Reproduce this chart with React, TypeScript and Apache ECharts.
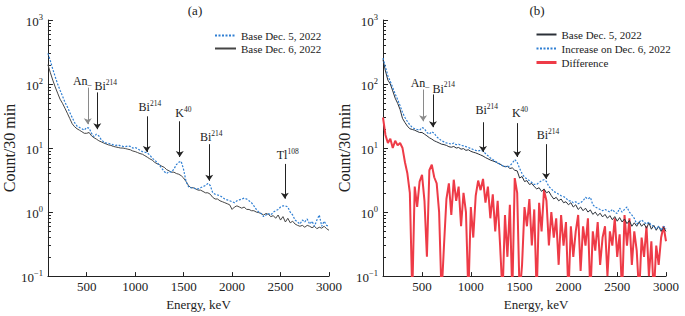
import React, { useEffect, useRef } from "react";
import * as echarts from "echarts";

// Energy grid (keV), 25 keV steps from 100 to 3000
const energies: number[] = Array.from({ length: 117 }, (_, i) => 100 + 25 * i);

// Panel (a)
const leftDec5: number[] = [
  300, 230, 170, 130, 100, 80, 65, 52,
  44, 36, 30, 25, 22, 21, 20, 19,
  21, 20.5, 17, 15, 16.5, 15.5, 13.5, 12.5,
  12, 11.8, 11.5, 11.2, 11, 11.2, 10.8, 10.6,
  10.5, 10.8, 10.6, 10, 10.2, 9.8, 9.2, 8.8,
  8.6, 8.4, 7.8, 7.0, 6.5, 6.0, 5.4, 4.8,
  4.3, 4.0, 4.3, 4.2, 4.7, 5.5, 6.0, 6.2,
  4.6, 3.0, 2.5, 2.4, 2.4, 2.3, 2.3, 2.4,
  2.5, 2.6, 2.8, 2.6, 2.0, 1.9, 1.85, 1.8,
  1.7, 1.6, 1.55, 1.5, 1.45, 1.4, 1.5, 1.55,
  1.6, 1.65, 1.6, 1.5, 1.4, 1.25, 1.1, 1.0,
  0.95, 0.85, 0.9, 0.95, 0.9, 1.0, 1.05, 1.1,
  1.2, 1.25, 1.25, 1.2, 1.0, 0.9, 0.75, 0.7,
  0.65, 0.75, 0.7, 0.78, 0.65, 0.72, 0.6, 0.75,
  0.9, 0.6, 0.72, 0.62, 0.6,
];
const leftDec6: number[] = [
  200, 150, 115, 90, 72, 58, 50, 42,
  35, 29, 24, 21.5, 20, 19, 18, 17,
  17, 17.5, 15.5, 14.5, 13.8, 13, 12.5, 12,
  11.6, 11.2, 11, 10.6, 10.4, 10.2, 10, 10,
  9.8, 9.6, 9.4, 9.0, 8.8, 8.5, 8.2, 8.0,
  7.6, 7.2, 6.8, 6.5, 6.0, 5.7, 5.5, 5.2,
  5.0, 4.6, 4.4, 4.2, 4.2, 4.0, 3.9, 3.7,
  3.4, 3.0, 2.6, 2.4, 2.4, 2.3, 2.2, 2.2,
  2.1, 2.0, 2.0, 1.9, 1.7, 1.6, 1.6, 1.5,
  1.45, 1.4, 1.35, 1.3, 1.1, 1.2, 1.25, 1.2,
  1.15, 1.2, 1.1, 1.1, 1.05, 1.05, 1.0, 0.98,
  0.95, 0.9, 0.95, 0.92, 0.85, 0.88, 0.8, 0.9,
  0.75, 0.85, 0.7, 0.8, 0.68, 0.72, 0.65, 0.62,
  0.6, 0.62, 0.58, 0.62, 0.6, 0.57, 0.6, 0.55,
  0.58, 0.56, 0.6, 0.55, 0.52,
];

// Panel (b)
const rightBase: number[] = [
  240, 160, 115, 100, 78, 60, 50, 40,
  29, 25, 22, 20, 19.5, 19, 18.2, 17.5,
  17.5, 16.5, 15.5, 14.5, 13.8, 13, 12.5, 12,
  11.5, 11.3, 11, 10.5, 10.3, 10.6, 10, 10.2,
  9.6, 9.8, 9.2, 9.4, 8.9, 8.6, 8.4, 8.1,
  7.8, 7.5, 7.1, 6.8, 6.5, 6.3, 6.1, 5.8,
  5.6, 5.3, 5.1, 5.2, 4.8, 4.9, 4.5, 4.4,
  3.4, 3.6, 3.0, 3.1, 2.7, 2.8, 2.5, 2.3,
  2.4, 2.1, 2.3, 2.0, 2.1, 1.8, 1.6, 1.7,
  1.5, 1.6, 1.4, 1.45, 1.3, 1.4, 1.2, 1.3,
  1.1, 1.2, 1.05, 1.15, 1.0, 1.08, 0.92, 1.0,
  0.88, 0.96, 0.84, 0.92, 0.8, 0.88, 0.76, 0.85,
  0.72, 0.82, 0.7, 0.78, 0.66, 0.74, 0.6, 0.68,
  0.6, 0.7, 0.6, 0.66, 0.56, 0.68, 0.54, 0.62,
  0.52, 0.6, 0.5, 0.58, 0.5,
];
const rightIncrease: number[] = [
  255, 185, 135, 110, 88, 70, 57, 46,
  36, 30, 26, 23, 21, 20, 19.5, 19,
  21, 20, 17.5, 16.5, 18, 17, 15, 14,
  13, 12.5, 12, 11.8, 11.5, 12, 11.3, 11.5,
  11, 10.8, 10.5, 10.2, 9.8, 9.5, 9.2, 9.0,
  9.2, 9.0, 8.2, 7.6, 7.0, 6.6, 6.2, 5.9,
  5.6, 5.3, 5.2, 5.0, 5.3, 5.8, 6.6, 6.0,
  4.8, 4.0, 3.5, 3.3, 3.1, 2.9, 2.7, 2.7,
  2.9, 3.1, 3.2, 3.0, 2.5, 2.3, 2.1, 2.0,
  1.9, 1.8, 1.75, 1.65, 1.5, 1.5, 1.4, 1.45,
  1.35, 1.4, 1.5, 1.7, 1.6, 1.7, 1.3, 1.2,
  1.15, 1.1, 1.05, 1.1, 1.05, 1.0, 1.1, 1.0,
  0.95, 1.15, 1.0, 1.1, 1.2, 1.0, 0.9, 0.8,
  0.65, 0.7, 0.75, 0.7, 0.65, 0.7, 0.62, 0.6,
  0.55, 0.6, 0.52, 0.6, 0.55,
];
const difference: number[] = [
  30, 16, 12, 14, 10, 13, 11, 12,
  10, 6, 4, 2, 0.05, 2.5, 1.2, 3.0,
  3.8, 1.5, 0.2, 4.5, 5.5, 3.5, 2.8, 1.0,
  0.05, 0.3, 1.6, 2.8, 0.9, 3.2, 1.5, 2.5,
  0.6, 2.0, 1.0, 0.05, 1.2, 0.4, 1.8, 3.1,
  2.2, 3.3, 1.4, 2.5, 0.8, 1.9, 0.5, 1.5,
  0.3, 0.05, 0.9, 0.2, 1.3, 0.05, 3.4, 2.0,
  0.05, 0.15, 1.2, 0.6, 1.6, 0.3, 1.1, 0.05,
  1.4, 0.5, 2.2, 1.5, 0.3, 1.0, 0.4, 0.8,
  0.15, 0.9, 0.3, 0.7, 0.05, 0.6, 0.2, 0.5,
  0.9, 0.12, 0.6, 0.3, 0.8, 0.05, 0.5, 0.25,
  0.7, 0.15, 0.4, 0.6, 0.1, 0.5, 0.3, 0.8,
  0.2, 0.45, 0.05, 0.9, 0.3, 0.8, 0.15, 0.5,
  0.25, 0.05, 0.4, 0.2, 0.6, 0.1, 0.35, 0.05,
  0.3, 0.15, 0.4, 0.6, 0.35,
];

const xTicks: number[] = [500, 1000, 1500, 2000, 2500, 3000];

// Peak annotations: [label, superscript, energy, arrowTop, arrowBottom, labelEnergy, labelCount]
type Ann = [string, string, number, number, number, number, number];
const annotationsA: Ann[] = [
  ["An", "", 511, 88, 23.6, 454, 117],
  ["Bi", "214", 609, 74, 19.7, 697, 95],
  ["Bi", "214", 1120, 31.3, 8.66, 1152, 44.8],
  ["K", "40", 1460, 26.2, 7.25, 1497, 36.1],
  ["Bi", "214", 1764, 11.5, 3.08, 1785, 15.35],
  ["Tl", "108", 2544, 5.65, 1.62, 2574, 8.07],
];
const annotationsB: Ann[] = [
  ["An", "", 511, 82, 26.2, 479, 109],
  ["Bi", "214", 612, 68.8, 21.2, 722, 88],
  ["Bi", "214", 1125, 25.3, 8.66, 1163, 40.2],
  ["K", "40", 1475, 24.5, 7.25, 1504, 36.1],
  ["Bi", "214", 1771, 11.5, 3.3, 1791, 16.5],
];

const FONT = "'Liberation Serif', 'Times New Roman', serif";
const BLUE = "#2f7fd3";
const RED = "#ee3b47";

const pairs = (vals: number[]) => energies.map((e, i) => [e, vals[i]]);

const minorTickValues: number[] = [];
for (let n = -1; n <= 2; n++) {
  for (let k = 2; k <= 9; k++) minorTickValues.push(n + Math.log10(k));
}

function annLayers(anns: Ann[]) {
  return {
    markLine: {
      silent: true,
      animation: false,
      symbol: ["none", "arrow"],
      symbolSize: 6,
      label: { show: false },
      data: anns.map((a) => {
        const c = a[0] === "An" ? "#8a8a8a" : "#222";
        return [
          { coord: [a[2], a[3]], lineStyle: { color: c, width: 1, type: "solid" }, itemStyle: { color: c } },
          { coord: [a[2], a[4]], lineStyle: { color: c, width: 1, type: "solid" }, itemStyle: { color: c } },
        ];
      }),
    },
    markPoint: {
      silent: true,
      animation: false,
      symbol: "rect",
      symbolSize: 1,
      itemStyle: { color: "rgba(0,0,0,0)" },
      label: {
        show: true,
        position: "inside",
        color: "#222",
        fontFamily: FONT,
        rich: {
          b: { fontSize: 12, fontFamily: FONT, color: "#222", lineHeight: 14, verticalAlign: "bottom" },
          s: { fontSize: 7.5, fontFamily: FONT, color: "#222", lineHeight: 8, verticalAlign: "top" },
          u: { fontSize: 8, fontFamily: FONT, color: "#222", lineHeight: 14, verticalAlign: "bottom" },
        },
      },
      data: anns.map((a) => ({
        coord: [a[5], a[6]],
        label: {
          formatter: a[0] === "An" ? "{b|An}{u|_}" : `{b|${a[0]}}{s|${a[1]}}`,
        },
      })),
    },
  };
}

const yLabelFmt = (v: number) => {
  const e = Math.round(Math.log10(v));
  return `{b|10}{s|${e < 0 ? "\u2212" + -e : e}}`;
};

function makeXAxis(gridIndex: number, pad: number) {
  return {
    type: "value",
    gridIndex,
    min: 100,
    max: 3000,
    name: "Energy, keV",
    nameLocation: "middle",
    nameGap: 21,
    nameTextStyle: { fontFamily: FONT, fontSize: 13, color: "#222", padding: [0, 0, 0, pad] },
    axisLine: { show: true, onZero: false, lineStyle: { color: "#222", width: 1 } },
    axisTick: { show: true, inside: true, length: 4, customValues: xTicks, lineStyle: { color: "#222" } },
    axisLabel: {
      customValues: xTicks,
      formatter: (v: number) => String(v),
      fontFamily: FONT,
      fontSize: 13,
      color: "#222",
      margin: 4,
    },
    splitLine: { show: false },
  };
}

function makeYAxis(gridIndex: number) {
  return {
    type: "log",
    logBase: 10,
    gridIndex,
    min: 0.1,
    max: 1000,
    position: "left",
    name: "Count/30 min",
    nameLocation: "middle",
    nameGap: 24,
    nameTextStyle: { fontFamily: FONT, fontSize: 16, color: "#222" },
    axisLine: { show: true, onZero: false, lineStyle: { color: "#222", width: 1 } },
    axisTick: { show: true, inside: true, length: 5, lineStyle: { color: "#222" } },
    axisLabel: {
      formatter: yLabelFmt,
      margin: 5,
      rich: {
        b: { fontFamily: FONT, fontSize: 13, color: "#222", lineHeight: 16, verticalAlign: "bottom" },
        s: { fontFamily: FONT, fontSize: 8.5, color: "#222", lineHeight: 10, verticalAlign: "top" },
      },
    },
    splitLine: { show: false },
  };
}

function makeMinorAxis(gridIndex: number) {
  return {
    type: "value",
    gridIndex,
    min: -1,
    max: 3,
    position: "left",
    offset: 0,
    axisLine: { show: false, onZero: false },
    axisTick: { show: true, inside: true, length: 3, customValues: minorTickValues, lineStyle: { color: "#222" } },
    axisLabel: { show: false },
    splitLine: { show: false },
  };
}

const legendText = { fontFamily: FONT, fontSize: 11, color: "#222" };

export default function App() {
  const ref = useRef<HTMLDivElement>(null);
  useEffect(() => {
    if (!ref.current) return;
    const chart = echarts.init(ref.current, null, { renderer: "svg" });
    const a = annLayers(annotationsA);
    const b = annLayers(annotationsB);
    chart.setOption({
      animation: false,
      backgroundColor: "#fff",
      textStyle: { fontFamily: FONT },
      grid: [
        { left: 43, top: 20, width: 286, height: 258 },
        { left: 383, top: 20, width: 283, height: 258 },
      ],
      xAxis: [makeXAxis(0, 20), makeXAxis(1, 23)],
      yAxis: [makeYAxis(0), makeYAxis(1), makeMinorAxis(0), makeMinorAxis(1)],
      legend: [
        {
          left: 209,
          top: 25,
          orient: "vertical",
          itemWidth: 21,
          itemHeight: 12,
          itemGap: 2,
          itemStyle: { opacity: 0 },
          textStyle: legendText,
          data: ["Base Dec. 5, 2022", "Base Dec. 6, 2022"],
          selectedMode: false,
        },
        {
          left: 530,
          top: 24,
          orient: "vertical",
          itemWidth: 20,
          itemHeight: 12,
          itemGap: 3,
          itemStyle: { opacity: 0 },
          textStyle: legendText,
          data: [
            "Base Dec. 5, 2022 ",
            "Increase on Dec. 6, 2022",
            { name: "Difference", lineStyle: { width: 3 } },
          ],
          selectedMode: false,
        },
      ],
      graphic: [
        { type: "text", x: 195, y: 10, style: { text: "(a)", fontFamily: FONT, fontSize: 13, fill: "#222", align: "center", verticalAlign: "middle" } },
        { type: "text", x: 537, y: 10, style: { text: "(b)", fontFamily: FONT, fontSize: 13, fill: "#222", align: "center", verticalAlign: "middle" } },
      ],
      series: [
        {
          name: "Base Dec. 6, 2022",
          type: "line",
          xAxisIndex: 0,
          yAxisIndex: 0,
          symbol: "none",
          data: pairs(leftDec6),
          lineStyle: { color: "#454545", width: 1 },
          itemStyle: { color: "#454545" },
          ...a,
        },
        {
          name: "Base Dec. 5, 2022",
          type: "line",
          xAxisIndex: 0,
          yAxisIndex: 0,
          symbol: "none",
          data: pairs(leftDec5),
          lineStyle: { color: BLUE, width: 1.2, type: [2, 1.5] },
          itemStyle: { color: BLUE },
        },
        {
          name: "Difference",
          type: "line",
          xAxisIndex: 1,
          yAxisIndex: 1,
          symbol: "none",
          data: pairs(difference),
          lineStyle: { color: RED, width: 2 },
          itemStyle: { color: RED },
        },
        {
          name: "Base Dec. 5, 2022 ",
          type: "line",
          xAxisIndex: 1,
          yAxisIndex: 1,
          symbol: "none",
          data: pairs(rightBase),
          lineStyle: { color: "#2b3038", width: 1 },
          itemStyle: { color: "#2b3038" },
          ...b,
        },
        {
          name: "Increase on Dec. 6, 2022",
          type: "line",
          xAxisIndex: 1,
          yAxisIndex: 1,
          symbol: "none",
          data: pairs(rightIncrease),
          lineStyle: { color: BLUE, width: 1.2, type: [2, 1.5] },
          itemStyle: { color: BLUE },
        },
      ],
    });
    return () => chart.dispose();
  }, []);
  return (
    <div
      ref={ref}
      style={{ position: "absolute", left: 0, top: 0, width: 685, height: 316 }}
    />
  );
}
